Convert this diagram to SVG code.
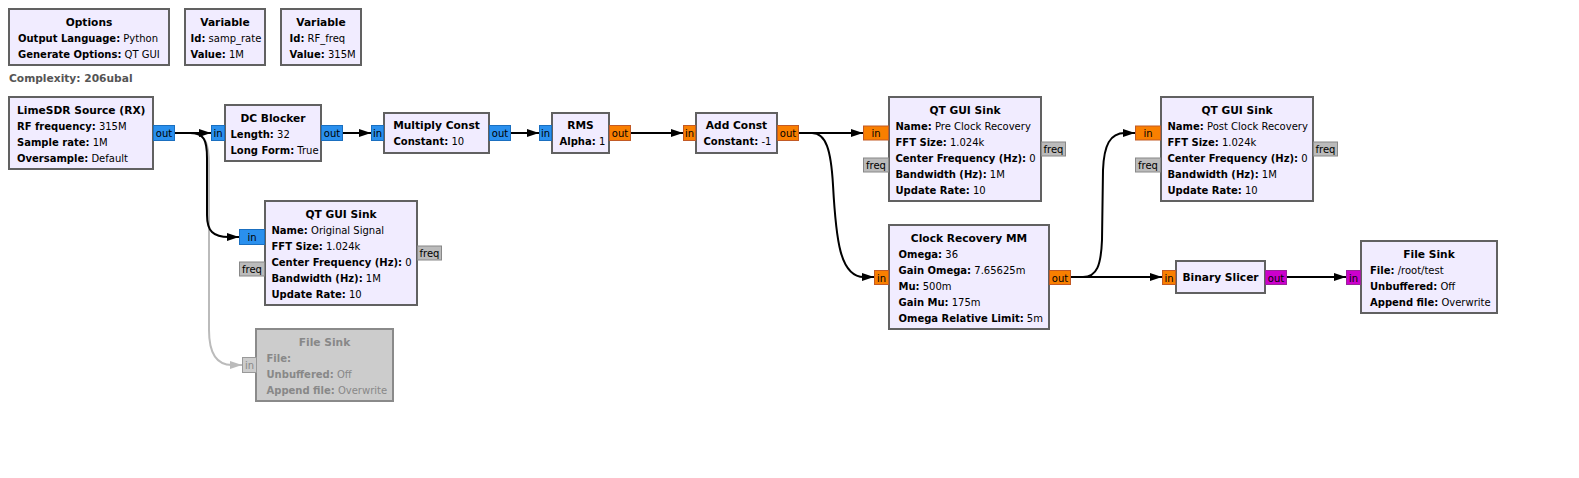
<svg xmlns="http://www.w3.org/2000/svg" width="1579" height="478" viewBox="0 0 1579 478">
<style>
text{font-family:"DejaVu Sans","Liberation Sans",sans-serif;font-size:10px;fill:#000}
.blk{fill:#F1ECFF;stroke:#616161;stroke-width:2}
.dis{fill:#CCCCCC;stroke:#8A8A8A;stroke-width:2}
.t{font-weight:bold;text-anchor:middle;font-size:10.67px}
.k{font-weight:bold}
.g text,.g tspan{fill:#888}
.pc{fill:#2A90EE;stroke:#1A6FC0;stroke-width:1}
.pf{fill:#F97F00;stroke:#C25A25;stroke-width:1}
.pb{fill:#CC00CC;stroke:#9A249A;stroke-width:1}
.pm{fill:#BBBBBB;stroke:#888888;stroke-width:1}
.pd{fill:#CCCCCC;stroke:#999999;stroke-width:1}
.pl{text-anchor:middle}
.c{fill:none;stroke:#000;stroke-width:2}
.cd{fill:none;stroke:#BBBBBB;stroke-width:2}
</style>
<defs>
<marker id="a" viewBox="0 0 12 8" refX="12" refY="4" markerWidth="12" markerHeight="8" markerUnits="userSpaceOnUse" orient="auto"><path d="M0,0 L12,4 L0,8 z" fill="#000"/></marker>
<marker id="ad" viewBox="0 0 12 8" refX="12" refY="4" markerWidth="12" markerHeight="8" markerUnits="userSpaceOnUse" orient="auto"><path d="M0,0 L12,4 L0,8 z" fill="#BBBBBB"/></marker>
</defs>
<rect width="1579" height="478" fill="#fff"/>

<g id="connectors">
<path class="cd" d="M175,133 H190 C205,133 209,142 209,165 V330 C209,355 218,365 232,365 H242" marker-end="url(#ad)"/>
<path class="c" d="M175,133 H211" marker-end="url(#a)"/>
<path class="c" d="M175,133 H190 C204,133 207,140 207,158 V215 C207,231 213,237 229,237 H239" marker-end="url(#a)"/>
<path class="c" d="M343,133 H371" marker-end="url(#a)"/>
<path class="c" d="M511,133 H539" marker-end="url(#a)"/>
<path class="c" d="M631,133 H683" marker-end="url(#a)"/>
<path class="c" d="M799,133 H863" marker-end="url(#a)"/>
<path class="c" d="M799,133 H812 C826,133 831,150 833,185 C836,240 840,277 864,277 H874" marker-end="url(#a)"/>
<path class="c" d="M1071,277 H1162" marker-end="url(#a)"/>
<path class="c" d="M1071,277 H1083 C1097,277 1101,265 1102,240 L1103,170 C1104,145 1110,133 1125,133 H1135" marker-end="url(#a)"/>
<path class="c" d="M1287,277 H1346" marker-end="url(#a)"/>
</g>

<g id="options">
<rect class="blk" x="9" y="9" width="160" height="56"/>
<text class="t" x="89" y="25.5">Options</text>
<text x="18" y="41.5"><tspan class="k">Output Language:</tspan> Python</text>
<text x="18" y="57.5"><tspan class="k">Generate Options:</tspan> QT GUI</text>
</g>

<g id="var_samp_rate">
<rect class="blk" x="185" y="9" width="80" height="56"/>
<text class="t" x="225" y="25.5">Variable</text>
<text x="190.5" y="41.5"><tspan class="k">Id:</tspan> samp_rate</text>
<text x="190.5" y="57.5"><tspan class="k">Value:</tspan> 1M</text>
</g>

<g id="var_rf_freq">
<rect class="blk" x="281" y="9" width="80" height="56"/>
<text class="t" x="321" y="25.5">Variable</text>
<text x="289.5" y="41.5"><tspan class="k">Id:</tspan> RF_freq</text>
<text x="289.5" y="57.5"><tspan class="k">Value:</tspan> 315M</text>
</g>

<text x="9" y="82" class="k" style="fill:#555;font-size:10.67px">Complexity: 206ubal</text>

<g id="limesdr_source">
<rect class="blk" x="9" y="97" width="144" height="72"/>
<text x="17" y="113.5" class="k" style="font-size:10.67px">LimeSDR Source (RX)</text>
<text x="17" y="129.5"><tspan class="k">RF frequency:</tspan> 315M</text>
<text x="17" y="145.5"><tspan class="k">Sample rate:</tspan> 1M</text>
<text x="17" y="161.5"><tspan class="k">Oversample:</tspan> Default</text>
<rect class="pc" x="153.5" y="125.5" width="21" height="15"/>
<text class="pl" x="164" y="137">out</text>
</g>

<g id="dc_blocker">
<rect class="blk" x="225" y="105" width="96" height="56"/>
<text class="t" x="273" y="121.5">DC Blocker</text>
<text x="230.5" y="137.5"><tspan class="k">Length:</tspan> 32</text>
<text x="230.5" y="153.5"><tspan class="k">Long Form:</tspan> True</text>
<rect class="pc" x="211.5" y="125.5" width="13" height="15"/>
<text class="pl" x="218" y="137">in</text>
<rect class="pc" x="321.5" y="125.5" width="21" height="15"/>
<text class="pl" x="332" y="137">out</text>
</g>

<g id="multiply_const">
<rect class="blk" x="384" y="113" width="105" height="40"/>
<text class="t" x="436.5" y="129">Multiply Const</text>
<text x="393.5" y="145"><tspan class="k">Constant:</tspan> 10</text>
<rect class="pc" x="371.5" y="125.5" width="12" height="15"/>
<text class="pl" x="377.5" y="137">in</text>
<rect class="pc" x="489.5" y="125.5" width="21" height="15"/>
<text class="pl" x="500" y="137">out</text>
</g>

<g id="rms">
<rect class="blk" x="552" y="113" width="57" height="40"/>
<text class="t" x="580.5" y="129">RMS</text>
<text x="559.5" y="145"><tspan class="k">Alpha:</tspan> 1</text>
<rect class="pc" x="539.5" y="125.5" width="12" height="15"/>
<text class="pl" x="545.5" y="137">in</text>
<rect class="pf" x="609.5" y="125.5" width="21" height="15"/>
<text class="pl" x="620" y="137">out</text>
</g>

<g id="add_const">
<rect class="blk" x="696" y="113" width="81" height="40"/>
<text class="t" x="736.5" y="129">Add Const</text>
<text x="703.5" y="145"><tspan class="k">Constant:</tspan> -1</text>
<rect class="pf" x="683.5" y="125.5" width="12" height="15"/>
<text class="pl" x="689.5" y="137">in</text>
<rect class="pf" x="777.5" y="125.5" width="21" height="15"/>
<text class="pl" x="788" y="137">out</text>
</g>

<g id="qtgui_sink_pre">
<rect class="blk" x="889" y="97" width="152" height="104"/>
<text class="t" x="965" y="113.5">QT GUI Sink</text>
<text x="895.5" y="129.5"><tspan class="k">Name:</tspan> Pre Clock Recovery</text>
<text x="895.5" y="145.5"><tspan class="k">FFT Size:</tspan> 1.024k</text>
<text x="895.5" y="161.5"><tspan class="k">Center Frequency (Hz):</tspan> 0</text>
<text x="895.5" y="177.5"><tspan class="k">Bandwidth (Hz):</tspan> 1M</text>
<text x="895.5" y="193.5"><tspan class="k">Update Rate:</tspan> 10</text>
<rect class="pf" x="863.5" y="126" width="25" height="14"/>
<text class="pl" x="876" y="137">in</text>
<rect class="pm" x="863.5" y="158" width="25" height="14"/>
<text class="pl" x="876" y="169">freq</text>
<rect class="pm" x="1041.5" y="142" width="24" height="14"/>
<text class="pl" x="1053.5" y="153">freq</text>
</g>

<g id="clock_recovery_mm">
<rect class="blk" x="889" y="225" width="160" height="104"/>
<text class="t" x="969" y="241.5">Clock Recovery MM</text>
<text x="898.5" y="257.5"><tspan class="k">Omega:</tspan> 36</text>
<text x="898.5" y="273.5"><tspan class="k">Gain Omega:</tspan> 7.65625m</text>
<text x="898.5" y="289.5"><tspan class="k">Mu:</tspan> 500m</text>
<text x="898.5" y="305.5"><tspan class="k">Gain Mu:</tspan> 175m</text>
<text x="898.5" y="321.5"><tspan class="k">Omega Relative Limit:</tspan> 5m</text>
<rect class="pf" x="874.5" y="270.5" width="14" height="14"/>
<text class="pl" x="881.5" y="281.5">in</text>
<rect class="pf" x="1049.5" y="270.5" width="21" height="14"/>
<text class="pl" x="1060" y="281.5">out</text>
</g>

<g id="qtgui_sink_post">
<rect class="blk" x="1161" y="97" width="152" height="104"/>
<text class="t" x="1237" y="113.5">QT GUI Sink</text>
<text x="1167.5" y="129.5"><tspan class="k">Name:</tspan> Post Clock Recovery</text>
<text x="1167.5" y="145.5"><tspan class="k">FFT Size:</tspan> 1.024k</text>
<text x="1167.5" y="161.5"><tspan class="k">Center Frequency (Hz):</tspan> 0</text>
<text x="1167.5" y="177.5"><tspan class="k">Bandwidth (Hz):</tspan> 1M</text>
<text x="1167.5" y="193.5"><tspan class="k">Update Rate:</tspan> 10</text>
<rect class="pf" x="1135.5" y="126" width="25" height="14"/>
<text class="pl" x="1148" y="137">in</text>
<rect class="pm" x="1135.5" y="158" width="25" height="14"/>
<text class="pl" x="1148" y="169">freq</text>
<rect class="pm" x="1313.5" y="142" width="24" height="14"/>
<text class="pl" x="1325.5" y="153">freq</text>
</g>

<g id="binary_slicer">
<rect class="blk" x="1176" y="261" width="89" height="32"/>
<text class="t" x="1220.5" y="281">Binary Slicer</text>
<rect class="pf" x="1162.5" y="270.5" width="13" height="14"/>
<text class="pl" x="1169" y="281.5">in</text>
<rect class="pb" x="1265.5" y="270.5" width="21" height="14"/>
<text class="pl" x="1276" y="281.5">out</text>
</g>

<g id="file_sink">
<rect class="blk" x="1361" y="241" width="136" height="72"/>
<text class="t" x="1429" y="257.5">File Sink</text>
<text x="1370" y="273.5"><tspan class="k">File:</tspan> /root/test</text>
<text x="1370" y="289.5"><tspan class="k">Unbuffered:</tspan> Off</text>
<text x="1370" y="305.5"><tspan class="k">Append file:</tspan> Overwrite</text>
<rect class="pb" x="1346.5" y="270.5" width="14" height="14"/>
<text class="pl" x="1353.5" y="281.5">in</text>
</g>

<g id="qtgui_sink_original">
<rect class="blk" x="265" y="201" width="152" height="104"/>
<text class="t" x="341" y="217.5">QT GUI Sink</text>
<text x="271.5" y="233.5"><tspan class="k">Name:</tspan> Original Signal</text>
<text x="271.5" y="249.5"><tspan class="k">FFT Size:</tspan> 1.024k</text>
<text x="271.5" y="265.5"><tspan class="k">Center Frequency (Hz):</tspan> 0</text>
<text x="271.5" y="281.5"><tspan class="k">Bandwidth (Hz):</tspan> 1M</text>
<text x="271.5" y="297.5"><tspan class="k">Update Rate:</tspan> 10</text>
<rect class="pc" x="239.5" y="229.5" width="25" height="15"/>
<text class="pl" x="252" y="241">in</text>
<rect class="pm" x="239.5" y="262" width="25" height="14"/>
<text class="pl" x="252" y="273">freq</text>
<rect class="pm" x="417.5" y="246" width="24" height="14"/>
<text class="pl" x="429.5" y="257">freq</text>
</g>

<g id="file_sink_disabled" class="g">
<rect class="dis" x="256" y="329" width="137" height="72"/>
<text class="t" x="324.5" y="345.5">File Sink</text>
<text x="266.5" y="361.5"><tspan class="k">File:</tspan></text>
<text x="266.5" y="377.5"><tspan class="k">Unbuffered:</tspan> Off</text>
<text x="266.5" y="393.5"><tspan class="k">Append file:</tspan> Overwrite</text>
<rect class="pd" x="242.5" y="357.5" width="14" height="15"/>
<text class="pl" x="249.5" y="369">in</text>
</g>
</svg>
